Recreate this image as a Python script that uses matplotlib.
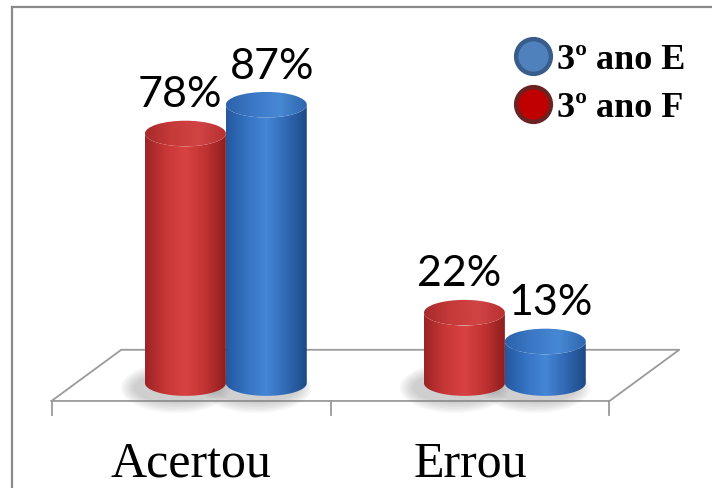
import numpy as np
import matplotlib.pyplot as plt
from matplotlib.patches import Polygon, Ellipse
from matplotlib.colors import LinearSegmentedColormap
from matplotlib.lines import Line2D

categories = ["Acertou", "Errou"]
series_names = ["3º ano F", "3º ano E"]
ano_f = [78, 22]
ano_e = [87, 13]

# colour ramps across the cylinder width (left edge -> highlight -> right edge)
body_colors = {
    "3º ano F": ["#9c2424", "#c83636", "#d84242", "#c13232", "#8f1e1e"],
    "3º ano E": ["#24589e", "#3572c2", "#4586d6", "#3068b4", "#1d4a86"],
}
top_colors = {
    "3º ano F": ["#a82a2a", "#c73a3a", "#d04444", "#b83030"],
    "3º ano E": ["#2c62aa", "#3b78c6", "#4788d4", "#2f66ae"],
}
legend_face = {"3º ano E": "#4f81bd", "3º ano F": "#c00000"}
legend_edge = {"3º ano E": "#385d8a", "3º ano F": "#6a2222"}

bar_w = 0.29
ell_h = 8.0       # height of the top/bottom ellipses, in % units
depth_x = 0.25    # floor depth shift
depth_y = 16.0

fig = plt.figure(figsize=(7.12, 4.88), dpi=100)
ax = fig.add_axes([11.5 / 712, 0, 1 - 11.5 / 712, 1 - 6.5 / 488])
for side in ["right", "bottom"]:
    ax.spines[side].set_visible(False)
for side in ["left", "top"]:
    ax.spines[side].set_color("#8a8a8a")
    ax.spines[side].set_linewidth(1.6)
ax.set_xticks([])
ax.set_yticks([])

# floor of the 3d plot
n = len(categories)
x0, x1 = -0.5, n - 0.5
fy = -5.6
floor_col = "#9a9a9a"
ax.plot([x0, x1, x1 + depth_x, x0 + depth_x, x0],
        [fy, fy, fy + depth_y, fy + depth_y, fy],
        color=floor_col, lw=1.3, zorder=1)
for tx in np.arange(x0, x1 + 0.01, 1.0):
    ax.plot([tx, tx], [fy, fy - 4.5], color=floor_col, lw=1.3, zorder=1)


def cylinder(xc, value, name):
    hw = bar_w / 2
    # soft shadow at the base
    for k in range(6):
        sh = Ellipse((xc - 0.035, -1.5), bar_w * (1.05 + 0.06 * k), ell_h * (1.2 + 0.15 * k),
                     facecolor="#808080", edgecolor="none", alpha=0.07, zorder=2)
        ax.add_patch(sh)

    t = np.linspace(np.pi, 2 * np.pi, 60)
    bottom = np.column_stack([xc + hw * np.cos(t), ell_h / 2 * np.sin(t)])
    t2 = np.linspace(0, -np.pi, 60)
    top = np.column_stack([xc + hw * np.cos(t2), value + ell_h / 2 * np.sin(t2)])
    body = Polygon(np.vstack([bottom, top]), closed=True,
                   facecolor="none", edgecolor="none", zorder=3)
    ax.add_patch(body)
    grad = np.linspace(0, 1, 200).reshape(1, -1)
    cmap = LinearSegmentedColormap.from_list(name + "_b", body_colors[name])
    im = ax.imshow(grad, extent=[xc - hw, xc + hw, -ell_h / 2, value],
                   aspect="auto", cmap=cmap, zorder=3, interpolation="bilinear")
    im.set_clip_path(body)

    cap = Ellipse((xc, value), bar_w, ell_h, facecolor="none", edgecolor="none", zorder=4)
    ax.add_patch(cap)
    cmap_t = LinearSegmentedColormap.from_list(name + "_t", top_colors[name])
    im2 = ax.imshow(grad, extent=[xc - hw, xc + hw, value - ell_h / 2, value + ell_h / 2],
                    aspect="auto", cmap=cmap_t, zorder=4, interpolation="bilinear")
    im2.set_clip_path(cap)


pos = np.arange(n) + depth_x / 2
for i in range(n):
    cylinder(pos[i] - bar_w / 2, ano_f[i], "3º ano F")
    cylinder(pos[i] + bar_w / 2, ano_e[i], "3º ano E")
    ax.text(pos[i] - bar_w / 2 - 0.02, ano_f[i] + 6, f"{ano_f[i]}%", ha="center", va="bottom",
            fontsize=31, family="Lato", zorder=6)
    ax.text(pos[i] + bar_w / 2 + 0.02, ano_e[i] + 6, f"{ano_e[i]}%", ha="center", va="bottom",
            fontsize=31, family="Lato", zorder=6)

for i, cat in enumerate(categories):
    ax.text(i, -29.2, cat, ha="center", va="baseline", fontsize=36,
            family="Liberation Serif")

ax.set_xlim(-0.6434, 1.8674)
ax.set_ylim(-32.8, 117.7)

handles = [Line2D([], [], ls="none", marker="o", markersize=25,
                  markerfacecolor=legend_face[s], markeredgecolor=legend_edge[s],
                  markeredgewidth=3.2) for s in ["3º ano E", "3º ano F"]]
ax.legend(handles, ["3º ano E", "3º ano F"], loc="upper right",
          bbox_to_anchor=(0.998, 0.975), frameon=False, handletextpad=0.05,
          labelspacing=0.4, borderpad=0.2, handlelength=1.2,
          prop={"family": "Liberation Serif", "weight": "bold", "size": 26})

fig.savefig("out.png", dpi=100)
